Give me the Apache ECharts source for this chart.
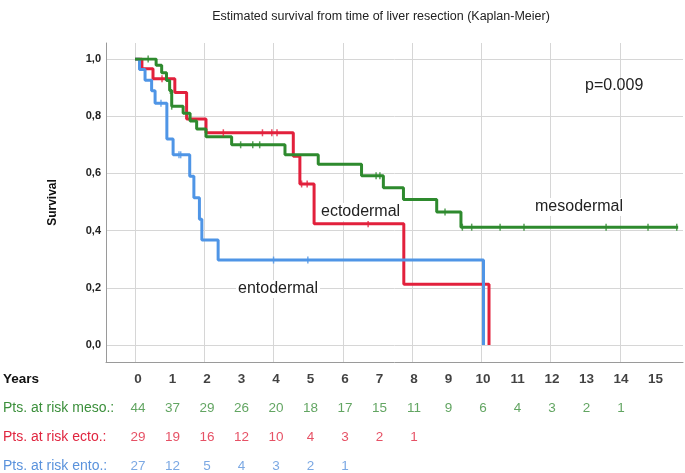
<!DOCTYPE html>
<html>
<head>
<meta charset="utf-8">
<script src="https://cdn.jsdelivr.net/npm/echarts@6/dist/echarts.min.js"></script>
<style>html,body{margin:0;padding:0;background:#fff}#c{width:685px;height:473px}</style>
</head>
<body>
<div id="c"></div>
<script>
// ---- data ----
const years = [0,1,2,3,4,5,6,7,8,9,10,11,12,13,14,15];
const riskMeso = [44,37,29,26,20,18,17,15,11,9,6,4,3,2,1];
const riskEcto = [29,19,16,12,10,4,3,2,1];
const riskEnto = [27,12,5,4,3,2,1];
const rowNames = ['Years','Pts. at risk meso.:','Pts. at risk ecto.:','Pts. at risk ento.:'];
const yTickLabels = ['0,0','0,2','0,4','0,6','0,8','1,0'];

// Kaplan-Meier step points [time (years), survival]
const kmMeso = [[0,1],[0.61,0.978],[0.77,0.952],[0.91,0.925],[1.0,0.89],[1.06,0.835],[1.39,0.81],[1.59,0.783],[1.78,0.755],[2.05,0.728],[2.79,0.70],[4.33,0.665],[5.29,0.632],[6.54,0.592],[7.17,0.55],[7.75,0.509],[8.71,0.465],[9.41,0.412],[15.68,0.412]];
const kmEcto = [[0,1],[0.2,0.966],[0.52,0.931],[1.15,0.883],[1.49,0.79],[2.05,0.742],[4.57,0.66],[4.76,0.563],[5.17,0.424],[7.76,0.212],[10.22,0]];
const kmEnto = [[0,1],[0.13,0.963],[0.29,0.926],[0.48,0.889],[0.58,0.845],[0.92,0.72],[1.1,0.665],[1.58,0.59],[1.7,0.515],[1.86,0.44],[1.93,0.367],[2.4,0.297],[10.06,0]];

// censoring times
const censMeso = [0.38,1.02,1.06,3.05,3.4,3.6,6.96,7.07,8.95,9.45,9.72,10.54,11.23,13.6,14.81,15.64];
const censEcto = [0.78,2.55,3.68,3.95,4.1,4.81,4.97,6.73];
const censEnto = [0.75,1.27,1.32,4.0,4.99];

const labelTexts = {ecto:'ectodermal', meso:'mesodermal', ento:'entodermal', p:'p=0.009'};
const titleText = 'Estimated survival from time of liver resection (Kaplan-Meier)';

// ---- colours ----
const cMeso = '#2e8a2e', cEcto = '#e2203c', cEnto = '#4f95e6';
const tMeso = '#3b8f3b', tEcto = '#e0253f', tEnto = '#5a92dc';
const FONT = '"Liberation Sans", Arial, sans-serif';

function levelAt(curve, t){ let s = curve[0][1]; for (const p of curve){ if (p[0] <= t) s = p[1]; } return s; }
function cens(curve, times){ return times.map(t => [t, levelAt(curve, t)]); }

const xMin = -0.837, xMax = 15.82;

const chart = echarts.init(document.getElementById('c'), null, {renderer:'canvas'});

function kmLine(name, data, color){
  return {name, type:'line', xAxisIndex:1, yAxisIndex:1, step:'end', data, showSymbol:false, symbol:'none',
    lineStyle:{color, width:3}, itemStyle:{color}, z:3, animation:false};
}
function censSeries(name, data, color){
  return {name, type:'scatter', xAxisIndex:1, yAxisIndex:1, data, symbol:'rect', symbolSize:[1.5,7],
    itemStyle:{color}, z:4, animation:false};
}
function riskSeries(row, vals, color, bold){
  return {type:'scatter', xAxisIndex:3, yAxisIndex:3, symbolSize:0,
    data: vals.map((v,i) => [years[i], row, v]),
    label:{show:true, position:'inside', formatter: p => String(p.value[2]), color, fontSize:13.5, fontFamily:FONT, fontWeight: bold ? 'bold' : 'normal'},
    animation:false};
}

const option = {
  animation:false,
  backgroundColor:'#fff',
  title:{text:titleText, left:376, top:5, textAlign:'center',
    textStyle:{fontSize:12.5, fontWeight:'normal', color:'#222', fontFamily:FONT}},
  grid:[
    {left:106, right:2, top:43, bottom:111},
    {left:106, right:2, top:59, bottom:128},
    {left:135, right:2, top:43, bottom:111},
    {left:136, right:29.4, top:379, bottom:7}
  ],
  xAxis:[
    {gridIndex:0, type:'value', min:xMin, max:xMax, axisLine:{show:true, onZero:false, lineStyle:{color:'#9a9a9a', width:1}}, axisTick:{show:false}, axisLabel:{show:false}, splitLine:{show:false}},
    {gridIndex:1, type:'value', min:xMin, max:xMax, show:false},
    {gridIndex:2, type:'value', min:0, max:xMax, interval:2, axisLine:{show:false}, axisTick:{show:false}, axisLabel:{show:false},
      splitLine:{show:true, showMaxLine:false, lineStyle:{color:'#d6d6d6', width:1}}},
    {gridIndex:3, type:'value', min:0, max:15, show:false}
  ],
  yAxis:[
    {gridIndex:0, type:'value', min:0, max:1, axisLine:{show:true, onZero:false, lineStyle:{color:'#9a9a9a', width:1}}, axisTick:{show:false}, axisLabel:{show:false}, splitLine:{show:false},
      name:'Survival', nameLocation:'middle', nameGap:47, nameRotate:90,
      nameTextStyle:{fontSize:12, fontWeight:'bold', color:'#111', fontFamily:FONT}},
    {gridIndex:1, type:'value', min:0, max:1, interval:0.2, axisLine:{show:false}, axisTick:{show:false},
      axisLabel:{show:true, margin:5, color:'#222', fontWeight:'bold', fontSize:11, fontFamily:FONT,
        formatter: v => yTickLabels[Math.round(v/0.2)]},
      splitLine:{show:true, lineStyle:{color:'#d6d6d6', width:1}}},
    {gridIndex:2, type:'value', min:0, max:1, show:false},
    {gridIndex:3, type:'category', data:rowNames, inverse:true, boundaryGap:false,
      axisLine:{show:false}, axisTick:{show:false}, splitLine:{show:false},
      axisLabel:{show:true, align:'left', margin:135, fontFamily:FONT,
        formatter:(v,i) => ['{y|', '{m|', '{e|', '{n|'][i] + v + '}',
        rich:{
          y:{fontSize:13.5, fontWeight:'bold', color:'#111', fontFamily:FONT},
          m:{fontSize:14, color:tMeso, fontFamily:FONT},
          e:{fontSize:14, color:tEcto, fontFamily:FONT},
          n:{fontSize:14, color:tEnto, fontFamily:FONT}
        }}}
  ],
  series:[
    kmLine('ecto', kmEcto, cEcto),
    kmLine('ento', kmEnto, cEnto),
    kmLine('meso', kmMeso, cMeso),
    censSeries('ectoC', cens(kmEcto, censEcto), cEcto),
    censSeries('entoC', cens(kmEnto, censEnto), cEnto),
    censSeries('mesoC', cens(kmMeso, censMeso), cMeso),
    riskSeries(rowNames[0], years, '#111', true),
    riskSeries(rowNames[1], riskMeso, tMeso, false),
    riskSeries(rowNames[2], riskEcto, tEcto, false),
    riskSeries(rowNames[3], riskEnto, tEnto, false)
  ],
  graphic:[
    {type:'text', left:319, top:203, z:10, style:{text:labelTexts.ecto, fontSize:16, fill:'#222', fontFamily:FONT, backgroundColor:'#fff', padding:[1,2]}},
    {type:'text', left:533, top:198, z:10, style:{text:labelTexts.meso, fontSize:16, fill:'#222', fontFamily:FONT, backgroundColor:'#fff', padding:[1,2]}},
    {type:'text', left:236, top:280, z:10, style:{text:labelTexts.ento, fontSize:16, fill:'#222', fontFamily:FONT, backgroundColor:'#fff', padding:[1,2]}},
    {type:'text', left:585, top:78, z:10, style:{text:labelTexts.p, fontSize:16, fill:'#222', fontFamily:FONT}}
  ]
};
chart.setOption(option);
</script>
</body>
</html>
